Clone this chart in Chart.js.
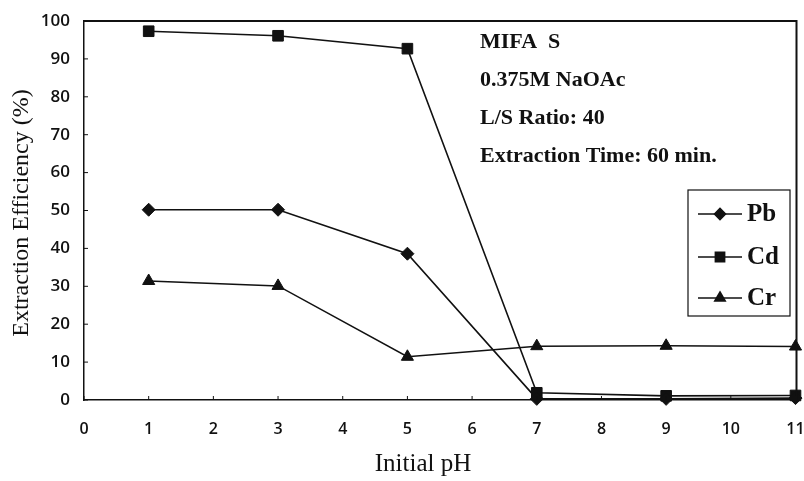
<!DOCTYPE html>
<html>
<head>
<meta charset="utf-8">
<script src="https://cdn.jsdelivr.net/npm/chart.js@4.4.1/dist/chart.umd.min.js"></script>
<style>
  html, body { margin: 0; padding: 0; background: #fff; overflow: hidden; }
  #wrap { width: 804px; height: 481px; }
</style>
</head>
<body>
<div id="wrap"><canvas id="chart" width="804" height="481"></canvas></div>
<script>
const phValues = [1, 3, 5, 7, 9, 11];
const pbValues = [50.2, 50.2, 38.6, 0.3, 0.3, 0.5];
const cdValues = [97.3, 96.1, 92.7, 1.9, 1.1, 1.2];
const crValues = [31.4, 30.1, 11.4, 14.2, 14.3, 14.1];
const seriesNames = ["Pb", "Cd", "Cr"];
const notes = ["MIFA  S", "0.375M NaOAc", "L/S Ratio: 40", "Extraction Time: 60 min."];
const xTitle = "Initial pH";
const yTitle = "Extraction Efficiency (%)";

function toPoints(values) {
  return values.map((v, i) => ({ x: phValues[i], y: v }));
}

const serif = "'Liberation Serif', 'Times New Roman', serif";

function makeSet(label, values, style, radius) {
  return {
    label: label,
    data: toPoints(values),
    borderColor: "#111",
    backgroundColor: "#111",
    borderWidth: 1.6,
    pointStyle: style,
    pointRadius: radius,
    pointBorderWidth: 1,
    pointBackgroundColor: "#111",
    pointBorderColor: "#111",
    tension: 0,
    clip: false
  };
}

const framePlugin = {
  id: "frame",
  afterDraw(chart) {
    const ctx = chart.ctx;
    const area = chart.chartArea;
    const xs = chart.scales.x;
    const ys = chart.scales.y;
    const right = Math.round(area.right) + 0.5;
    ctx.save();
    ctx.strokeStyle = "#111";
    ctx.lineWidth = 2;
    ctx.beginPath();
    ctx.moveTo(area.left, area.top);
    ctx.lineTo(right, area.top);
    ctx.lineTo(right, area.bottom);
    ctx.stroke();

    // inward tick marks
    ctx.lineWidth = 1;
    ctx.beginPath();
    xs.ticks.forEach(t => {
      const px = xs.getPixelForValue(t.value);
      ctx.moveTo(px, area.bottom);
      ctx.lineTo(px, area.bottom - 4);
    });
    ys.ticks.forEach(t => {
      const py = ys.getPixelForValue(t.value);
      ctx.moveTo(area.left, py);
      ctx.lineTo(area.left + 4, py);
    });
    ctx.stroke();

    // axis titles
    ctx.fillStyle = "#111";
    ctx.font = "25px " + serif;
    ctx.textAlign = "center";
    ctx.textBaseline = "middle";
    ctx.fillText(xTitle, 423, 464);
    ctx.save();
    ctx.translate(22, 213);
    ctx.rotate(-Math.PI / 2);
    ctx.font = "24px " + serif;
    ctx.fillText(yTitle, 0, 0);
    ctx.restore();

    // notes
    ctx.font = "bold 22px " + serif;
    ctx.textAlign = "left";
    notes.forEach((n, i) => {
      ctx.fillText(n, 480, 42 + i * 38);
    });

    // legend
    ctx.lineWidth = 1.2;
    ctx.strokeRect(688, 190, 102, 126);
    const rows = [214, 257, 298];
    chart.data.datasets.forEach((ds, i) => {
      const y = rows[i];
      ctx.beginPath();
      ctx.lineWidth = 1.6;
      ctx.strokeStyle = "#111";
      ctx.moveTo(698, y);
      ctx.lineTo(742, y);
      ctx.stroke();
      ctx.fillStyle = "#111";
      Chart.helpers.drawPoint(ctx, {
        pointStyle: ds.pointStyle,
        radius: ds.pointRadius - 1,
        rotation: 0,
        borderWidth: 1
      }, 720, y);
      ctx.font = "bold 25px " + serif;
      ctx.textAlign = "left";
      ctx.fillText(seriesNames[i], 747, y + 1);
    });
    ctx.restore();
  }
};

new Chart(document.getElementById("chart"), {
  type: "line",
  data: {
    datasets: [
      makeSet(seriesNames[0], pbValues, "rectRot", 6.5),
      makeSet(seriesNames[1], cdValues, "rect", 7.5),
      makeSet(seriesNames[2], crValues, "triangle", 7)
    ]
  },
  options: {
    responsive: false,
    animation: false,
    layout: { padding: { top: 21, right: 8, left: 0, bottom: 0 } },
    plugins: {
      legend: { display: false },
      tooltip: { enabled: false }
    },
    scales: {
      x: {
        type: "linear",
        min: 0,
        max: 11,
        afterFit(scale) {
          scale.height = 81;
          scale.paddingLeft = 0;
          scale.paddingRight = 0;
        },
        grid: { display: true, drawOnChartArea: false, drawTicks: false },
        border: { display: true, color: "#111", width: 1.5 },
        ticks: {
          stepSize: 1,
          padding: 20,
          color: "#111",
          font: { family: "'Open Sans', sans-serif", size: 16, weight: "600" }
        }
      },
      y: {
        min: 0,
        max: 100,
        afterFit(scale) {
          scale.width = 84;
          scale.paddingTop = 0;
          scale.paddingBottom = 0;
        },
        grid: { display: true, drawOnChartArea: false, drawTicks: false },
        border: { display: true, color: "#111", width: 1.5 },
        ticks: {
          stepSize: 10,
          padding: 14,
          color: "#111",
          font: { family: "'Open Sans', sans-serif", size: 17, weight: "600" }
        }
      }
    }
  },
  plugins: [framePlugin]
});
</script>
</body>
</html>
